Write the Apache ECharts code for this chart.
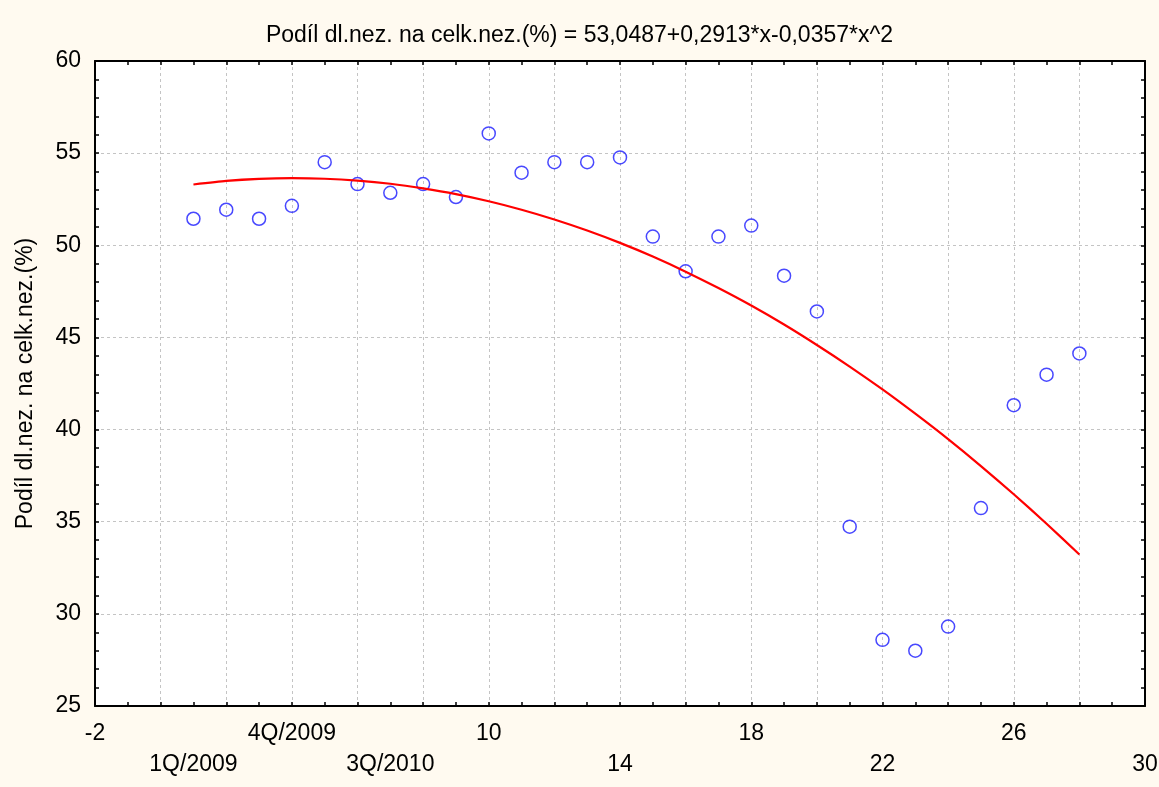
<!DOCTYPE html>
<html>
<head>
<meta charset="utf-8">
<script src="https://cdn.jsdelivr.net/npm/echarts@6/dist/echarts.min.js"></script>
<style>
html,body{margin:0;padding:0;background:#fffaf0;}
#c{width:1159px;height:787px;}
</style>
</head>
<body>
<div id="c"></div>
<script>
// Data
const quarterX = [1,2,3,4,5,6,7,8,9,10,11,12,13,14,15,16,17,18,19,20,21,22,23,24,25,26,27,28];
const share = [51.44,51.93,51.44,52.14,54.51,53.32,52.85,53.32,52.62,56.07,53.94,54.51,54.51,54.77,50.47,48.59,50.47,51.07,48.35,46.41,34.73,28.59,28.0,29.31,35.74,41.32,42.98,44.13];
const fitY = [53.30,53.49,53.60,53.64,53.61,53.51,53.34,53.09,52.78,52.39,51.93,51.40,50.80,50.13,49.39,48.57,47.68,46.73,45.70,44.59,43.42,42.18,40.86,39.48,38.02,36.49,34.89,33.22];
const xTickLabels = {"-2":"-2","1":"1Q/2009","4":"4Q/2009","7":"3Q/2010","10":"10","14":"14","18":"18","22":"22","26":"26","30":"30"};
const bottomRow = [1,7,14,22,30];
const subtitle = "Podíl dl.nez. na celk.nez.(%) = 53,0487+0,2913*x-0,0357*x^2";
const yName = "Podíl dl.nez. na celk.nez.(%)";

const font = "'Liberation Sans', Arial, sans-serif";
const fs = 23;
const chart = echarts.init(document.getElementById('c'));
const gridLine = {show:true, lineStyle:{color:'#c4c4c4', type:[3,3], width:1}};
chart.setOption({
  backgroundColor:'#fffaf0',
  animation:false,
  textStyle:{fontFamily:font, color:'#000'},
  title:{text:subtitle, left:'center', top:19, textStyle:{fontFamily:font, fontSize:fs, fontWeight:'normal', color:'#000'}},
  grid:{left:95, right:14, top:61, bottom:81, show:true, backgroundColor:'#fff', borderWidth:0, containLabel:false, outerBoundsMode:'none'},
  xAxis:[
    {type:'value', min:-2, max:30, interval:1, position:'bottom',
     axisLine:{lineStyle:{color:'#000', width:2}},
     axisTick:{inside:true, length:4, lineStyle:{color:'#000', width:1.5}},
     splitLine:{show:false},
     axisLabel:{show:true, showMinLabel:true, showMaxLabel:true, margin:12, lineHeight:31, fontSize:fs, fontFamily:font, color:'#000',
       formatter:function(v){const k=String(Math.round(v)); if(!(k in xTickLabels)) return ''; return bottomRow.indexOf(Math.round(v))>=0 ? '\n'+xTickLabels[k] : xTickLabels[k];}}},
    {type:'value', min:-2, max:30, interval:2, position:'top',
     axisLine:{show:true, onZero:false, lineStyle:{color:'#000', width:2}},
     axisTick:{inside:true, length:4, lineStyle:{color:'#000', width:1.5}},
     minorTick:{show:true, splitNumber:2, length:4, lineStyle:{color:'#000', width:1.5}},
     axisLabel:{show:false},
     splitLine:gridLine}
  ],
  yAxis:[
    {type:'value', min:25, max:60, interval:5, position:'left',
     name:yName, nameLocation:'middle', nameGap:58, nameTextStyle:{fontSize:fs, fontFamily:font, color:'#000'},
     axisLine:{show:true, onZero:false, lineStyle:{color:'#000', width:2}},
     axisTick:{inside:true, length:4, lineStyle:{color:'#000', width:1.5}},
     minorTick:{show:true, splitNumber:5, length:4, lineStyle:{color:'#000', width:1.5}},
     axisLabel:{fontSize:fs, fontFamily:font, color:'#000', margin:14},
     splitLine:gridLine},
    {type:'value', min:25, max:60, interval:5, position:'right',
     axisLine:{show:true, onZero:false, lineStyle:{color:'#000', width:2}},
     axisTick:{inside:true, length:4, lineStyle:{color:'#000', width:1.5}},
     minorTick:{show:true, splitNumber:5, length:4, lineStyle:{color:'#000', width:1.5}},
     axisLabel:{show:false}, splitLine:{show:false}}
  ],
  series:[
    {type:'scatter', xAxisIndex:0, yAxisIndex:0, data:quarterX.map((x,i)=>[x,share[i]]),
     symbol:'circle', symbolSize:13,
     itemStyle:{color:'rgba(0,0,0,0)', borderColor:'#1a1aff', borderWidth:1.5}, z:2},
    {type:'line', xAxisIndex:0, yAxisIndex:0, data:quarterX.map((x,i)=>[x,fitY[i]]),
     showSymbol:false, smooth:0.2, lineStyle:{color:'#ff0000', width:2.2}, z:3}
  ]
});
</script>
</body>
</html>
